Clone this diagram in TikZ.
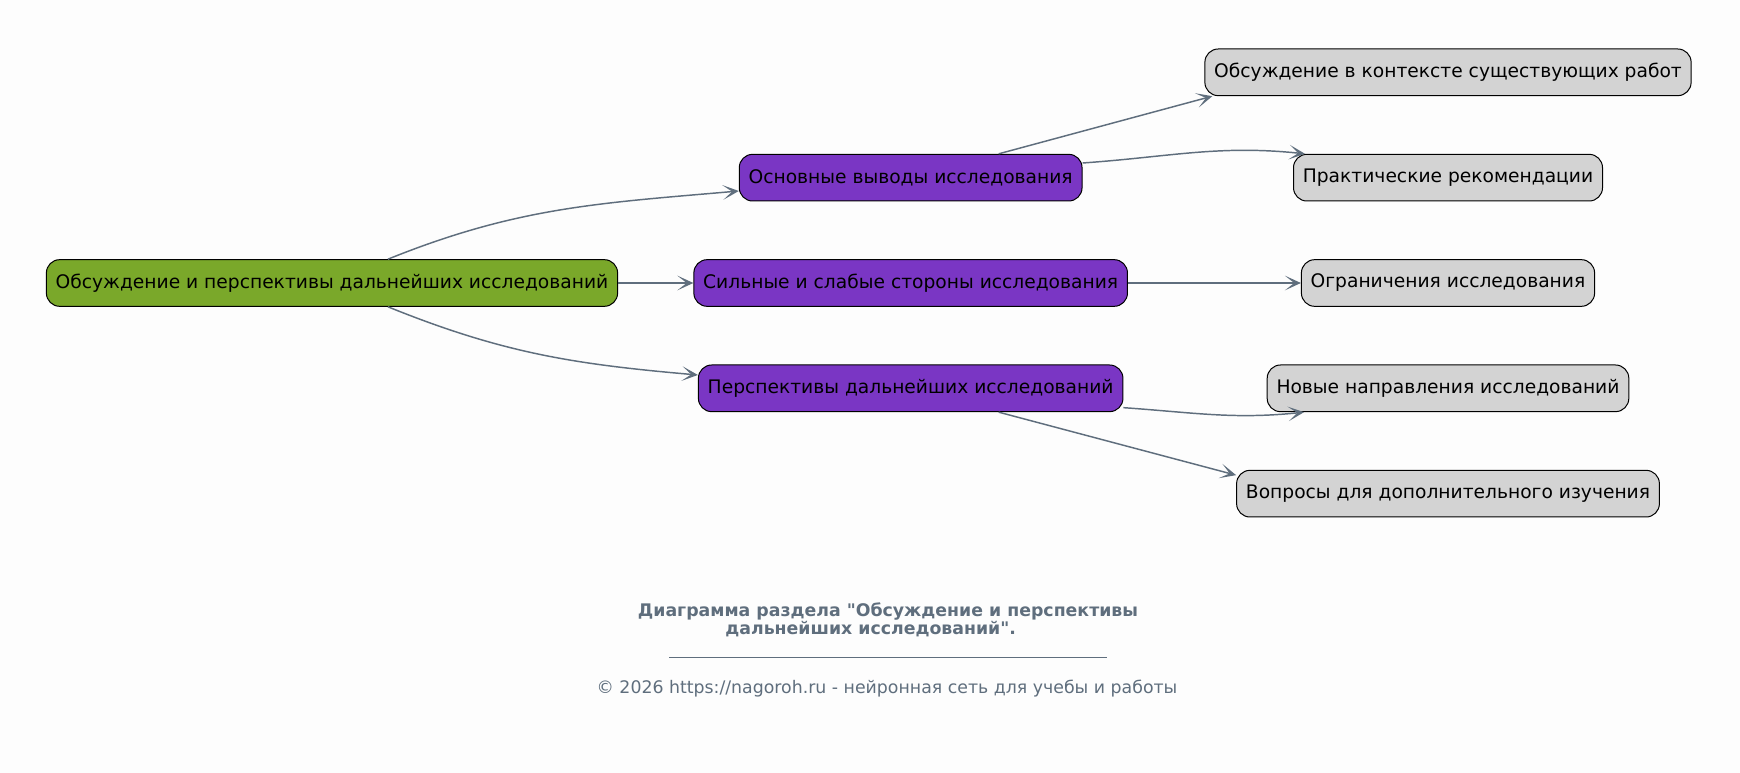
\documentclass[tikz,border=0pt]{standalone}
\usepackage{fontspec}
\setmainfont{DejaVu Sans}
\usetikzlibrary{positioning, arrows.meta, calc}
\definecolor{rootgreen}{HTML}{7AA82A}
\definecolor{midviolet}{HTML}{7A36C4}
\definecolor{leafgray}{HTML}{D3D3D3}
\definecolor{edgeslate}{HTML}{5F6E7D}
\definecolor{pagebg}{HTML}{FDFDFD}
\tikzset{
topic/.style={draw=black, line width=0.75pt, rounded corners=10pt, minimum height=35pt, inner xsep=7pt, font=\fontsize{14}{17}\selectfont}, % common box
root/.style={topic, fill=rootgreen}, % the main section
branch/.style={topic, fill=midviolet}, % second level
leaf/.style={topic, fill=leafgray}, % third level
link/.style={draw=edgeslate, line width=1.1pt, -{Stealth[length=12pt, width=11pt, inset=7pt]}}, % makes the edges directed
captext/.style={text=edgeslate, align=center, font=\fontsize{13}{13.5}\selectfont},
}

\begin{document}
\begin{tikzpicture}
                \fill[pagebg] (-249pt,212.25pt) rectangle (1056pt,-367.5pt);
                \useasboundingbox (-249pt,212.25pt) rectangle (1056pt,-367.5pt);

                \node[root] (disc) {Обсуждение и перспективы дальнейших исследований};
                \node[branch, right of=disc, node distance=434pt] (sides) {Сильные и слабые стороны исследования};
                \node[branch, above of=sides, node distance=79pt] (concl) {Основные выводы исследования};
                \node[branch, below of=sides, node distance=79pt] (persp) {Перспективы дальнейших исследований};
                \node[leaf, right of=sides, node distance=403pt] (limits) {Ограничения исследования};
                \node[leaf, above of=limits, node distance=79pt] (practice) {Практические рекомендации};
                \node[leaf, above of=practice, node distance=79pt] (context) {Обсуждение в контексте существующих работ};
                \node[leaf, below of=limits, node distance=79pt] (newdir) {Новые направления исследований};
                \node[leaf, below of=newdir, node distance=79pt] (questions) {Вопросы для дополнительного изучения};

                \draw[link] ($(disc.north)+(42pt,0)$) to[out=22, in=185] ($(concl.west)+(0,-10pt)$);
                \draw[link] (disc) -- (sides);
                \draw[link] ($(disc.south)+(42pt,0)$) to[out=-22, in=175] ($(persp.west)+(0,10pt)$);
                \draw[link] ($(concl.north)+(66pt,0)$) -- ($(context.south west)+(6pt,0)$);
                \draw[link] ($(concl.east)+(0,11pt)$) to[out=4, in=174] ($(practice.north west)+(9pt,0)$);
                \draw[link] (sides) -- (limits);
                \draw[link] ($(persp.east)+(0,-14.5pt)$) to[out=-4, in=186] ($(newdir.south west)+(28pt,0)$);
                \draw[link] ($(persp.south)+(66pt,0)$) -- ($(questions.north west)+(0,-4pt)$);

                \node[captext, font=\fontsize{13}{13.5}\selectfont\bfseries] (title) at (417pt,-252.75pt) {Диаграмма раздела \textquotedbl Обсуждение и перспективы\\дальнейших исследований\textquotedbl.\hspace*{2em}};
                \coordinate (ruleA) at (252.75pt,-280.5pt);
                \coordinate (ruleB) at (581.25pt,-280.5pt);
                \draw[edgeslate, line width=0.6pt] (ruleA) -- (ruleB);
                \node[captext] (copy) at (416.25pt,-304.5pt) {© 2026 https://nagoroh.ru - нейронная сеть для учебы и работы};
            \end{tikzpicture}
\end{document}
